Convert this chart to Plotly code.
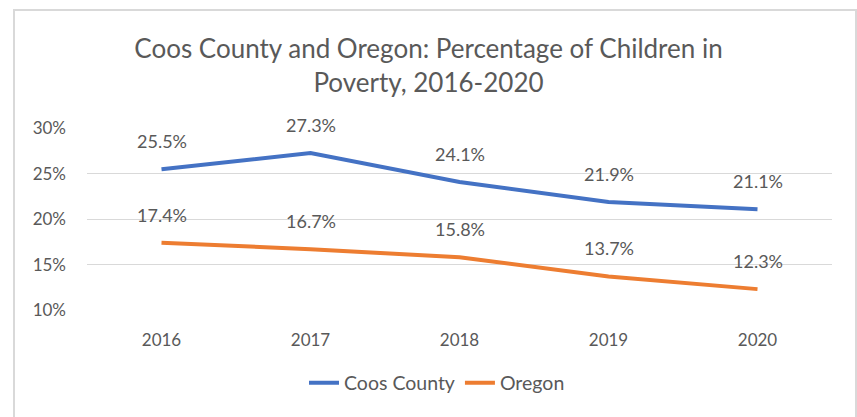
import plotly.graph_objects as go

years = ["2016", "2017", "2018", "2019", "2020"]
coos_county = [25.5, 27.3, 24.1, 21.9, 21.1]
oregon = [17.4, 16.7, 15.8, 13.7, 12.3]
y_ticks = [10, 15, 20, 25, 30]
y_tick_labels = ["10%", "15%", "20%", "25%", "30%"]

BLUE = "#4472C4"
ORANGE = "#ED7D31"
TEXT = "#595959"
FONT = "Lato, Open Sans, sans-serif"

fig = go.Figure()
for name, vals, color in [("Coos County", coos_county, BLUE), ("Oregon", oregon, ORANGE)]:
    fig.add_trace(go.Scatter(
        x=years, y=vals, name=name, mode="lines",
        line=dict(color=color, width=4),
    ))
    # value labels sit just above each point
    for i, v in enumerate(vals):
        fig.add_annotation(
            x=i, y=v, xref="x", yref="y", text=f"{v:.1f}%", showarrow=False,
            yshift=28, font=dict(size=18, color=TEXT, family=FONT),
        )

# chart frame
fig.add_shape(
    type="rect", xref="paper", yref="paper",
    x0=(14 - 87) / 745, x1=(856 - 87) / 745,
    y0=(310 - 430) / 182, y1=(310 - 10) / 182,
    line=dict(color="#D9D9D9", width=2), fillcolor="rgba(0,0,0,0)",
    layer="below",
)

fig.update_layout(
    width=857, height=417,
    margin=dict(l=87, r=25, t=128, b=107, autoexpand=False),
    paper_bgcolor="white", plot_bgcolor="white",
    font=dict(family=FONT, color=TEXT, size=17),
    title=dict(
        text="Coos County and Oregon: Percentage of Children in<br>Poverty, 2016-2020",
        x=0.5, xanchor="center", xref="container",
        y=1 - 58 / 417, yanchor="middle", yref="container",
        font=dict(size=26, color=TEXT, family=FONT),
    ),
    xaxis=dict(
        type="category", range=[-0.5, 4.5], showgrid=False, zeroline=False,
        showline=False, ticks="", ticklabelstandoff=18,
        tickfont=dict(size=17, color=TEXT),
    ),
    yaxis=dict(
        range=[10, 30.05], tickvals=y_ticks, ticktext=y_tick_labels,
        showgrid=True, gridcolor="#D9D9D9", gridwidth=1, zeroline=False,
        showline=False, ticks="", ticklabelstandoff=20,
        tickfont=dict(size=17, color=TEXT),
    ),
    showlegend=True,
    legend=dict(
        orientation="h", x=(437 - 87) / 745, xanchor="center",
        y=(310 - 383) / 182, yanchor="middle",
        font=dict(size=19.5, color=TEXT, family=FONT),
    ),
)

fig.write_html("out.html")
